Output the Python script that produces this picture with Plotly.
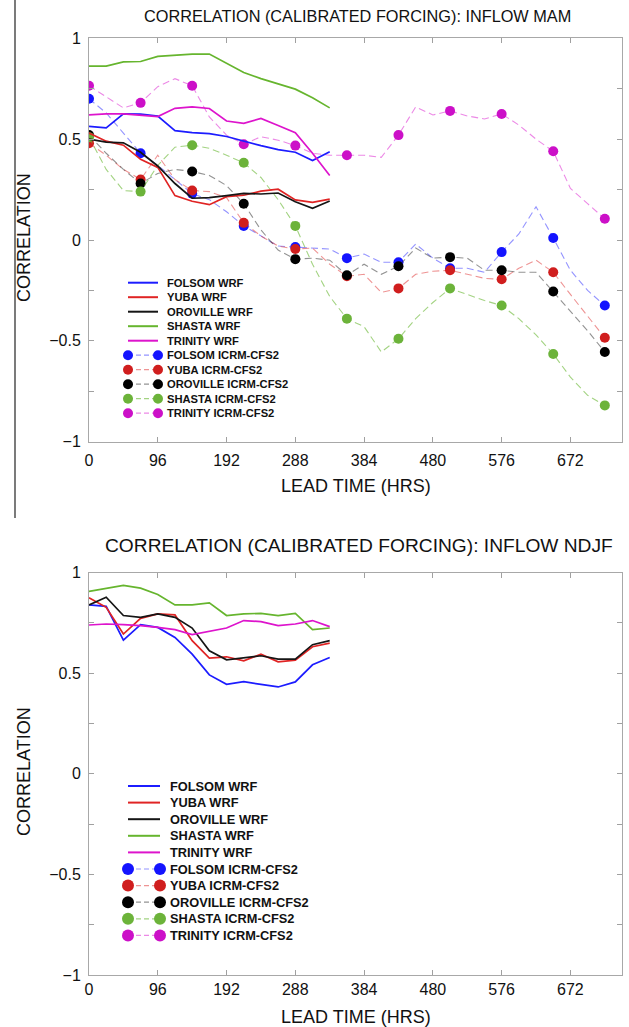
import plotly.graph_objects as go

# ---------------- data ----------------
hours_wrf = list(range(0, 337, 24))
hours_icrm = list(range(0, 721, 24))
x_ticks = [0, 96, 192, 288, 384, 480, 576, 672]
y_ticks = [-1, -0.75, -0.5, -0.25, 0, 0.25, 0.5, 0.75, 1]
y_ticktext = ["\u22121", "", "\u22120.5", "", "0", "", "0.5", "", "1"]

basins = ["FOLSOM", "YUBA", "OROVILLE", "SHASTA", "TRINITY"]

mam_folsom_wrf = [0.563, 0.556, 0.625, 0.624, 0.614, 0.542, 0.532, 0.527, 0.513, 0.49, 0.468, 0.448, 0.435, 0.394, 0.437]
mam_yuba_wrf = [0.53, 0.49, 0.47, 0.40, 0.36, 0.22, 0.192, 0.175, 0.215, 0.222, 0.242, 0.252, 0.199, 0.187, 0.203]
mam_oroville_wrf = [0.50, 0.485, 0.482, 0.435, 0.367, 0.28, 0.207, 0.21, 0.22, 0.231, 0.228, 0.233, 0.19, 0.157, 0.193]
mam_shasta_wrf = [0.862, 0.862, 0.883, 0.885, 0.91, 0.915, 0.922, 0.922, 0.875, 0.83, 0.80, 0.775, 0.748, 0.705, 0.655]
mam_trinity_wrf = [0.62, 0.625, 0.625, 0.62, 0.612, 0.653, 0.66, 0.652, 0.59, 0.578, 0.603, 0.568, 0.532, 0.43, 0.32]

mam_folsom_icrm = [0.70, 0.63, 0.53, 0.43, 0.37, 0.30, 0.23, 0.20, 0.14, 0.07, 0.02, -0.03, -0.035, -0.04, -0.045,
                   -0.09, -0.07, -0.11, -0.11, -0.02, -0.09, -0.14, -0.14, -0.16, -0.06, 0.03, 0.165, 0.01, -0.15, -0.25, -0.325]
mam_yuba_icrm = [0.48, 0.42, 0.35, 0.30, 0.42, 0.30, 0.245, 0.24, 0.21, 0.085, 0.02, -0.03, -0.045, -0.04, -0.12,
                 -0.18, -0.17, -0.26, -0.24, -0.17, -0.155, -0.15, -0.17, -0.19, -0.195, -0.14, -0.10, -0.16, -0.27, -0.38, -0.485]
mam_oroville_icrm = [0.52, 0.43, 0.35, 0.28, 0.33, 0.35, 0.34, 0.32, 0.27, 0.18, 0.05, -0.05, -0.095, -0.09, -0.10,
                     -0.175, -0.12, -0.17, -0.13, -0.04, -0.09, -0.085, -0.09, -0.15, -0.15, -0.16, -0.16, -0.255, -0.35, -0.45, -0.555]
mam_shasta_icrm = [0.51, 0.35, 0.245, 0.24, 0.37, 0.46, 0.47, 0.455, 0.42, 0.383, 0.31, 0.20, 0.07, -0.12, -0.28,
                   -0.39, -0.43, -0.555, -0.49, -0.39, -0.31, -0.24, -0.27, -0.30, -0.325, -0.39, -0.47, -0.565, -0.68, -0.77, -0.82]
mam_trinity_icrm = [0.765, 0.71, 0.655, 0.68, 0.76, 0.80, 0.765, 0.61, 0.52, 0.475, 0.512, 0.495, 0.468, 0.43, 0.42,
                    0.42, 0.42, 0.41, 0.52, 0.66, 0.62, 0.64, 0.615, 0.60, 0.625, 0.57, 0.50, 0.44, 0.256, 0.18, 0.105]

ndjf_folsom_wrf = [0.84, 0.833, 0.665, 0.742, 0.728, 0.678, 0.595, 0.492, 0.445, 0.458, 0.445, 0.432, 0.457, 0.542, 0.578]
ndjf_yuba_wrf = [0.875, 0.828, 0.695, 0.773, 0.795, 0.79, 0.662, 0.575, 0.582, 0.562, 0.595, 0.557, 0.565, 0.632, 0.65]
ndjf_oroville_wrf = [0.84, 0.878, 0.787, 0.778, 0.795, 0.778, 0.725, 0.612, 0.567, 0.578, 0.587, 0.57, 0.57, 0.642, 0.662]
ndjf_shasta_wrf = [0.907, 0.923, 0.937, 0.923, 0.892, 0.84, 0.84, 0.85, 0.787, 0.795, 0.798, 0.787, 0.798, 0.717, 0.725]
ndjf_trinity_wrf = [0.74, 0.745, 0.742, 0.737, 0.728, 0.717, 0.692, 0.707, 0.725, 0.762, 0.757, 0.737, 0.745, 0.762, 0.732]

titles = ["CORRELATION (CALIBRATED FORCING): INFLOW MAM", "CORRELATION (CALIBRATED FORCING): INFLOW NDJF"]
x_title = "LEAD TIME (HRS)"
y_title = "CORRELATION"

# ---------------- styles ----------------
line_colors = ["#1c1cff", "#e02424", "#151515", "#66b52e", "#dd14cc"]
marker_colors = ["#1414ff", "#d01e1e", "#000000", "#6cb33a", "#cc10c8"]
dash_colors = ["rgba(60,60,255,0.55)", "rgba(224,60,60,0.55)", "rgba(40,40,40,0.5)",
               "rgba(102,181,46,0.6)", "rgba(221,40,210,0.55)"]
FONT = "Liberation Sans, Arial, sans-serif"

W, H = 629, 1027
ML, MR, MT, MB = 89, 7, 38, 52
PW, PH = W - ML - MR, H - MT - MB


def px2x(px):
    return (px - ML) / PW


def py2y(py):
    return (H - MB - py) / PH


top_dom = [py2y(441.7), py2y(38.3)]
bot_dom = [py2y(975), py2y(572.7)]

fig = go.Figure()

mam_wrf = [mam_folsom_wrf, mam_yuba_wrf, mam_oroville_wrf, mam_shasta_wrf, mam_trinity_wrf]
mam_icrm = [mam_folsom_icrm, mam_yuba_icrm, mam_oroville_icrm, mam_shasta_icrm, mam_trinity_icrm]
ndjf_wrf = [ndjf_folsom_wrf, ndjf_yuba_wrf, ndjf_oroville_wrf, ndjf_shasta_wrf, ndjf_trinity_wrf]

for i, b in enumerate(basins):
    fig.add_trace(go.Scatter(x=hours_icrm, y=mam_icrm[i], mode="lines",
                             line=dict(color=dash_colors[i], width=1.1, dash="7px,4px"),
                             xaxis="x", yaxis="y", showlegend=False, name=b + " ICRM-CFS2"))
    fig.add_trace(go.Scatter(x=hours_icrm[::3], y=mam_icrm[i][::3], mode="markers",
                             marker=dict(color=marker_colors[i], size=10),
                             xaxis="x", yaxis="y", showlegend=False, name=b + " ICRM-CFS2"))
for i, b in enumerate(basins):
    fig.add_trace(go.Scatter(x=hours_wrf, y=mam_wrf[i], mode="lines",
                             line=dict(color=line_colors[i], width=1.7),
                             xaxis="x", yaxis="y", showlegend=False, name=b + " WRF"))
for i, b in enumerate(basins):
    fig.add_trace(go.Scatter(x=hours_wrf, y=ndjf_wrf[i], mode="lines",
                             line=dict(color=line_colors[i], width=1.7),
                             xaxis="x2", yaxis="y2", showlegend=False, name=b + " WRF"))

axis_common = dict(showline=True, linecolor="#a8a8a8", linewidth=1, mirror="allticks",
                   ticks="inside", ticklen=5, tickcolor="#a0a0a0", showgrid=False, zeroline=False,
                   tickfont=dict(family=FONT, size=16, color="#111"))

fig.update_layout(
    width=W, height=H, margin=dict(l=ML, r=MR, t=MT, b=MB),
    paper_bgcolor="white", plot_bgcolor="white", showlegend=False,
    xaxis=dict(domain=[0, 1], range=[0, 744], tickvals=x_ticks, anchor="y",
               ticklabelstandoff=4, **axis_common),
    yaxis=dict(domain=top_dom, range=[-1, 1], tickvals=y_ticks, ticktext=y_ticktext, anchor="x",
               ticklabelstandoff=4, **axis_common),
    xaxis2=dict(domain=[0, 1], range=[0, 744], tickvals=x_ticks, anchor="y2",
                ticklabelstandoff=0, **axis_common),
    yaxis2=dict(domain=bot_dom, range=[-1, 1], tickvals=y_ticks, ticktext=y_ticktext, anchor="x2",
                ticklabelstandoff=4, **axis_common),
)

ann = []
shapes = []
ann.append(dict(text=titles[0], x=px2x(357), y=py2y(16), xref="paper", yref="paper", showarrow=False,
                xanchor="center", yanchor="middle", font=dict(family=FONT, size=16.3, color="#111")))
ann.append(dict(text=titles[1], x=px2x(359), y=py2y(545), xref="paper", yref="paper", showarrow=False,
                xanchor="center", yanchor="middle", font=dict(family=FONT, size=19.2, color="#111")))
for py in (486, 1017):
    ann.append(dict(text=x_title, x=px2x(356), y=py2y(py), xref="paper", yref="paper", showarrow=False,
                    xanchor="center", yanchor="middle", font=dict(family=FONT, size=18, color="#111")))
for py in (238, 772):
    ann.append(dict(text=y_title, x=px2x(24), y=py2y(py), xref="paper", yref="paper", showarrow=False,
                    textangle=-90, xanchor="center", yanchor="middle", font=dict(family=FONT, size=18, color="#111")))

shapes.append(dict(type="line", xref="paper", yref="paper", x0=px2x(15), x1=px2x(15), y0=py2y(0), y1=py2y(518),
                   line=dict(color="#222", width=1.2)))

legend_labels = [b + " WRF" for b in basins] + [b + " ICRM-CFS2" for b in basins]


def add_legend(y0, step, x_a, x_b, x_text, fsize, msize):
    for k, lab in enumerate(legend_labels):
        py = y0 + k * step
        i = k % 5
        if k < 5:
            shapes.append(dict(type="line", xref="paper", yref="paper", x0=px2x(x_a), x1=px2x(x_b),
                               y0=py2y(py), y1=py2y(py), line=dict(color=line_colors[i], width=2)))
        else:
            shapes.append(dict(type="line", xref="paper", yref="paper", x0=px2x(x_a), x1=px2x(x_b),
                               y0=py2y(py), y1=py2y(py), line=dict(color=dash_colors[i], width=1.2, dash="5px,3px")))
            for xm in (x_a, x_b):
                shapes.append(dict(type="circle", xref="paper", yref="paper", xsizemode="pixel", ysizemode="pixel",
                                   xanchor=px2x(xm), yanchor=py2y(py), x0=-msize / 2, x1=msize / 2,
                                   y0=-msize / 2, y1=msize / 2, fillcolor=marker_colors[i],
                                   line=dict(width=0)))
        ann.append(dict(text="<b>" + lab + "</b>", x=px2x(x_text), y=py2y(py), xref="paper", yref="paper",
                        showarrow=False, xanchor="left", yanchor="middle",
                        font=dict(family=FONT, size=fsize, color="#111")))


add_legend(282.7, 14.5, 128, 158, 165, 11.2, 10)
add_legend(786, 16.6, 128, 160, 168, 12.8, 12)

fig.update_layout(annotations=ann, shapes=shapes)
fig.write_html("out.html")
